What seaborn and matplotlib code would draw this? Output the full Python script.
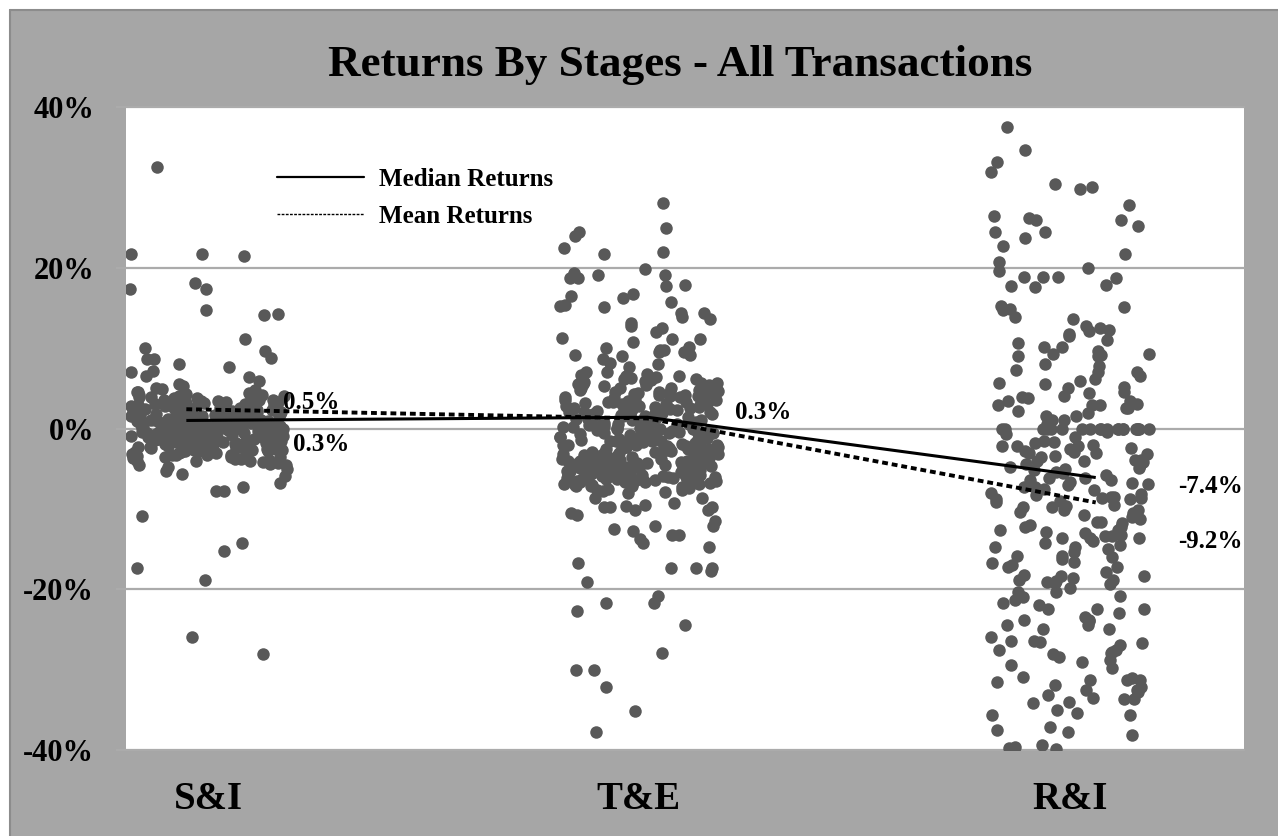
import numpy as np
import pandas as pd
import matplotlib
matplotlib.use("Agg")
import matplotlib.pyplot as plt
import seaborn as sns
from matplotlib.lines import Line2D
from matplotlib.patches import Rectangle

# ---------------- data ----------------
categories = ["S&I", "T&E", "R&I"]

si_returns = [
    32.5, 21.7, 21.7, 21.4, 18.1, 17.4, 17.4, 14.7, 14.3, 14.1, 11.1, 10.0, 8.8, 9.6,
    8.7, 7.7, 7.0, 8.7, 8.0, 7.2, 6.4, 5.9, 5.3, 5.5, 6.5,
    -10.9, -14.3, -15.2, -17.4, -18.8, -25.9, -28.1, -7.3, -7.8, -7.8, -6.8, -5.9, -5.6, -5.3,
    4.8, 4.5, 4.3, 4.2, 4.0, 3.9, 3.8, 3.7, 3.6, 3.5, 3.4, 3.3, 3.2, 3.1, 3.0, 3.0, 2.9,
    2.8, 2.8, 2.7, 2.6, 2.6, 2.5, 2.4, 2.4, 2.3, 2.2, 2.2, 2.1, 2.0, 2.0, 1.9, 1.9, 1.8,
    1.7, 1.7, 1.6, 1.6, 1.5, 1.5, 1.4, 1.4, 1.3, 1.3, 1.2, 1.2, 1.1, 1.1, 1.0, 1.0, 0.9,
    0.9, 0.8, 0.8, 0.7, 0.7, 0.6, 0.6, 0.5, 0.5, 0.4, 0.4, 0.3, 0.3, 0.3, 0.2, 0.2, 0.1,
    0.1, 0.0, 0.0, 0.0, -0.1, -0.1, -0.2, -0.2, -0.3, -0.3, -0.4, -0.4, -0.5, -0.5, -0.6,
    -0.6, -0.7, -0.7, -0.8, -0.8, -0.9, -0.9, -1.0, -1.0, -1.1, -1.1, -1.2, -1.3, -1.3,
    -1.4, -1.5, -1.5, -1.6, -1.7, -1.8, -1.8, -1.9, -2.0, -2.1, -2.2, -2.3, -2.4, -2.5,
    -2.6, -2.7, -2.8, -2.9, -3.0, -3.1, -3.3, -3.4, -3.6, -3.8, -4.0, -4.2, -4.5, -4.8,
    4.6, 4.1, 3.85, 3.45, 3.15, 2.95, 2.65, 2.35, 2.15, 1.95, 1.75, 1.55, 1.35, 1.15,
    0.95, 0.75, 0.55, 0.35, 0.15, -0.05, -0.25, -0.45, -0.65, -0.85, -1.05, -1.25, -1.45,
    -1.65, -1.85, -2.15, -2.45, -2.75, -3.05, -3.35, -3.7, -4.1, -4.6, 2.55, 1.85, 1.25,
    0.65, 0.05, -0.55, -1.15, -1.75, -2.35,
    3.95, 3.55, 3.25, 2.75, 2.45, 2.25, 1.65, 1.05, 0.85, 0.45, 0.25, -0.15, -0.35, -0.75,
    -0.95, -1.35, -1.55, -1.95, -2.05, -2.25, -2.55, -2.65, -2.85, -3.15, -3.25, -3.5,
    -3.9, -4.3, 4.4, 3.75, 3.35, 2.05, 1.45, 0.15, -0.05, -1.45, -2.95, -3.55, 2.7, 2.1,
    1.5, 0.9, 0.3, -0.3, -0.9, -1.5, -2.1, -2.7, -3.3, 3.3, 4.2, 1.8, 1.2, 0.6, 0.0, -0.6,
    -1.2, -1.8, -2.4, 2.4, 1.6, 0.8, 0.2, -0.8, -1.6, -4.4, -5.0, 5.0, 4.9, -3.8, -4.0,
    3.6, 2.9, -0.2, 0.7, -1.0, 1.3, -2.6, 2.3, -0.4,
]

te_returns = [
    28.1, 24.9, 24.5, 23.9, 22.5, 21.9, 21.7, 19.1, 19.1, 18.7, 19.9, 19.4, 18.7, 17.7,
    17.8, 16.7, 16.2, 15.7, 16.5, 15.1, 14.4, 13.6, 15.4, 15.3, 13.9, 12.7, 14.4, 12.5,
    13.1, 11.1, 12.0, 11.2, 10.8, 11.1, 9.5, 9.8, 8.0, 10.1, 10.0, 9.0, 9.8, 9.2, 8.2,
    7.0, 8.6, 7.7, 9.2, 9.5,
    -8.7, -12.5, -9.8, -9.7, -9.5, -11.5, -13.2, -13.8, -13.3, -10.1, -9.3, -8.7, -10.5,
    -12.1, -14.2, -12.8, -16.7, -10.1, -10.7, -12.1, -9.8, -9.8, -14.8, -17.3, -17.4,
    -17.7, -19.1, -17.4, -20.9, -21.7, -21.7, -22.7, -24.5, -27.9, -30.0, -30.0, -32.1,
    -35.1, -37.7,
    7.0, 6.8, 6.6, 6.5, 6.3, 6.1, 6.0, 5.8, 5.7, 5.5, 5.4, 5.2, 5.1, 5.0, 4.9, 4.7, 4.6,
    4.5, 4.4, 4.2, 4.1, 4.0, 3.9, 3.8, 3.7, 3.5, 3.4, 3.3, 3.2, 3.1, 3.0, 2.9, 2.8, 2.7,
    2.6, 2.5, 2.4, 2.3, 2.2, 2.1, 2.0, 1.9, 1.8, 1.7, 1.6, 1.5, 1.4, 1.3, 1.2, 1.1, 1.0,
    0.9, 0.8, 0.7, 0.6, 0.5, 0.4, 0.3, 0.2, 0.1, 0.0, -0.1, -0.2, -0.3, -0.4, -0.5, -0.6,
    -0.7, -0.8, -0.9, -1.0, -1.1, -1.2, -1.3, -1.4, -1.5, -1.6, -1.7, -1.8, -1.9, -2.0,
    -2.1, -2.2, -2.3, -2.4, -2.5, -2.6, -2.7, -2.8, -2.9, -3.0, -3.1, -3.2, -3.3, -3.4,
    -3.5, -3.6, -3.7, -3.8, -3.9, -4.0, -4.1, -4.2, -4.3, -4.4, -4.5, -4.6, -4.7, -4.8,
    -4.9, -5.0, -5.1, -5.2, -5.3, -5.4, -5.5, -5.6, -5.7, -5.8, -5.9, -6.0, -6.1, -6.2,
    -6.3, -6.4, -6.5, -6.6, -6.7, -6.8, -6.9, -7.0, -7.2, -7.4, -7.6, -7.8, -8.0,
    6.2, 5.3, 4.3, 3.6, 2.85, 2.15, 1.45, 0.75, 0.05, -0.65, -1.35, -1.85, -2.25, -2.65,
    -2.95, -3.25, -3.55, -3.85, -4.15, -4.45, -4.75, -5.05, -5.35, -5.65, -5.95, -6.25,
    -6.55, -6.85, -7.1, -3.45, -3.95, -4.65, -5.15, -5.75, -6.15, -2.45, -1.55, -0.35,
    0.85, 2.05, 3.25, 4.75, -4.95, -5.45, -6.05, -6.35, -6.75, -3.15, -2.05, -1.05, 0.45,
    1.65, 5.6, -7.3,
    6.7, 5.9, 5.0, 4.4, 3.9, 3.3, 2.7, 2.2, 1.7, 1.1, 0.6, 0.0, -0.5, -1.0, -1.6, -2.1,
    -2.6, -3.1, -3.6, -4.1, -4.6, -5.1, -5.6, -6.1, -6.6, -7.1, -7.7, -4.3, -4.8, -5.3,
    -5.8, -6.3, -6.8, -3.3, -3.8, -2.8, -2.3, -1.8, -1.3, -0.8, -0.3, 0.2, 0.7, 1.2, 1.8,
    2.4, 3.0, 3.6, 4.2, 4.8, 5.4, 6.4, -5.5, -6.0, -6.5, -5.0, -4.5, -4.0, -3.5, -3.0,
    -2.5, -2.0, -1.5, -7.5, -7.9, -6.9, -6.4, -5.9, -5.4, -4.9, -4.4, -3.9, -3.4, -2.9,
    0.5, 1.5, 2.5, 3.5, 4.5, -0.5, -1.0, 5.5, 6.5, -7.0, -6.2, -5.2, -4.2, -3.2, -2.2, -1.2,
]

ri_returns = [
    37.5, 34.7, 33.1, 31.9, 30.1, 30.4, 29.8, 27.8, 26.0, 26.2, 25.9, 26.4, 25.2, 24.4,
    24.4, 23.7, 22.7, 21.7, 20.7, 19.6, 20.0, 18.9, 18.9, 18.7, 18.8, 17.8, 17.6, 17.7,
    15.2, 15.1, 14.9, 14.7, 13.9, 13.6, 12.5, 11.8, 12.1, 11.5, 12.3, 12.7, 10.6, 10.1,
    9.3, 10.1, 9.0, 9.0, 9.7, 9.2, 7.3, 6.5, 9.3, 8.0, 7.0, 7.0, 5.2, 5.9, 5.7, 5.1, 4.4,
    4.5, 3.9, 4.1, 2.9, 2.9, 2.9, 3.4, 3.4, 2.6, 2.6, 1.9, 1.6, 1.5, 1.1, 3.0, 6.2, 1.0,
    0.5,
    0.0, 0.0, 0.0, 0.0, 0.0, 0.0, 0.0, 0.0, 0.0, 0.0, 0.0, 0.0, 0.0, 0.0, 0.0, 0.0, 0.0,
    0.0, 0.0, 0.0,
    -2.2, -2.2, -3.0, -2.2, -4.1, -3.9, -4.9, -4.1, -2.4, -2.9, -2.0, -0.7, -1.7, -3.9,
    -4.5, -5.4, -3.0, -4.2, -6.6, -8.6, -9.2, -6.1, -7.3, -8.0, -7.0, -8.2, -5.5, -7.3,
    -8.6, -8.8, -6.4, -6.4, -8.5, -9.5, -10.1, -8.5, -8.8, -9.8, -9.8, -10.1, -11.6,
    -11.6, -12.2, -13.4, -12.6, -11.0, -13.4, -12.3, -13.0, -13.6, -14.7, -12.6, -14.2,
    -13.6, -13.2, -13.6, -15.4, -15.9, -16.7, -17.2, -17.8, -18.8, -16.6, -15.9, -17.2,
    -18.2, -18.8, -18.4, -19.4, -19.1, -18.4, -19.8, -19.2, -20.4, -21.9, -22.5, -20.4,
    -21.3, -22.5, -23.8, -22.9, -21.7, -23.4, -24.4, -22.5, -25.0, -24.4, -26.0, -26.5,
    -27.8, -27.9, -27.5, -29.0, -28.8, -28.4, -26.6, -26.9, -28.1, -29.4, -26.7, -26.5,
    -29.8, -30.9, -31.3, -31.3, -32.1, -32.5, -33.7, -34.0, -31.0, -31.9, -32.8, -33.5,
    -32.5, -31.6, -33.1, -33.7, -34.1, -35.4, -35.0, -35.6, -37.5, -37.7, -37.2, -38.1,
    -39.4, -39.6, -39.8, -39.9,
    -3.2, -10.5, -14.8, -18.6, -23.8, -25.0, -27.5, -31.3, -35.6, -5.0, -1.5,
    -1.0, -2.6, -3.5, -4.8, -5.8, -6.8, -7.7, -8.3, -9.0, -10.4, -11.3, -12.0, -12.9,
    -14.0, -15.0, -16.2, -17.0, -19.0, -20.8, -1.8, -3.4, -5.2, -6.2, -7.5, -9.6, -11.8,
    -14.5, 2.2, 3.8, 5.5, 7.8, 11.0, -0.4, -2.8, -4.4, -6.9, -10.8, -16.0, -21.0, -24.0,
]

median_returns = [1.0, 1.4, -6.1]
mean_returns = [2.4, 1.25, -9.2]
value_labels = ["0.5%", "0.3%", "0.3%", "-7.4%", "-9.2%"]
legend_labels = ["Median Returns", "Mean Returns"]
y_ticks = [-40, -20, 0, 20, 40]
y_tick_labels = ["-40%", "-20%", "0%", "20%", "40%"]
title_text = "Returns By Stages - All Transactions"

# ---------------- layout constants ----------------
W, H = 1278, 836
line_x = [-0.05, 1.02, 2.06]
label_pos = [(0.174, 3.2), (0.197, -2.0), (1.223, 2.0), (2.251, -7.2), (2.251, -14.1)]

sns.set_theme(style="white")
plt.rcParams["font.family"] = ["Liberation Serif", "DejaVu Serif"]
plt.rcParams["font.weight"] = "bold"
plt.rcParams["text.color"] = "black"
plt.rcParams["axes.labelcolor"] = "black"
plt.rcParams["xtick.color"] = "black"
plt.rcParams["ytick.color"] = "black"

df = pd.DataFrame({
    "stage": [categories[0]] * len(si_returns) + [categories[1]] * len(te_returns)
             + [categories[2]] * len(ri_returns),
    "ret": si_returns + te_returns + ri_returns,
})

fig = plt.figure(figsize=(W / 100, H / 100), dpi=100, facecolor="#a6a6a6")
# white outer margin + darker edge line
fig.patches.append(Rectangle((0, 1 - 9 / H), 1, 9 / H, transform=fig.transFigure,
                             facecolor="white", edgecolor="none", zorder=0))
fig.patches.append(Rectangle((0, 0), 9 / W, 1, transform=fig.transFigure,
                             facecolor="white", edgecolor="none", zorder=0))
fig.lines.append(Line2D([9.5 / W, 1], [1 - 9.5 / H, 1 - 9.5 / H], transform=fig.transFigure,
                        color="#8c8c8c", lw=1.5))
fig.lines.append(Line2D([9.5 / W, 9.5 / W], [0, 1 - 9.5 / H], transform=fig.transFigure,
                        color="#8c8c8c", lw=1.5))

ax = fig.add_axes([126 / W, 1 - 750 / H, (1244 - 126) / W, (750 - 107) / H])
ax.set_facecolor("white")
for yv in y_ticks:
    ax.axhline(yv, color="#ababab", lw=1.6, zorder=0, clip_on=False)

np.random.seed(11)
sns.stripplot(data=df, x="stage", y="ret", order=categories, color="#595959",
              size=9, jitter=0.185, linewidth=0, ax=ax, zorder=2)

ax.plot(line_x, median_returns, color="black", lw=2.2, zorder=3, solid_capstyle="butt")
ax.plot(line_x, mean_returns, color="black", lw=2.8, ls=(0, (1.5, 1.0)), zorder=3)

for (tx, ty), s in zip(label_pos, value_labels):
    ax.text(tx, ty, s, ha="left", va="center", fontsize=18, fontweight="bold",
            color="black", zorder=4)

handles = [Line2D([], [], color="black", lw=1.6),
           Line2D([], [], color="black", lw=1.0, ls=(0, (2, 1)))]
ax.legend(handles, legend_labels, loc="upper left", bbox_to_anchor=(0.135, 0.905),
          frameon=False, prop={"size": 18, "weight": "bold"}, handlelength=3.5,
          handletextpad=0.6, labelspacing=0.55, borderaxespad=0, borderpad=0,
          labelcolor="black")

ax.set_xlim(-0.19, 2.404)
ax.set_ylim(-40, 40)
ax.set_yticks(y_ticks)
ax.set_yticklabels(y_tick_labels)
ax.tick_params(axis="y", left=True, length=7, width=1.5, color="#ababab", pad=16,
               labelsize=22, labelcolor="black")
ax.tick_params(axis="x", length=0, pad=22, labelsize=28, labelcolor="black")
ax.set_xlabel("")
ax.set_ylabel("")
for sp in ax.spines.values():
    sp.set_visible(False)

fig.text(0.532, 1 - 65 / H, title_text, ha="center", va="center", fontsize=32.5,
         fontweight="bold", color="black")

fig.savefig("out.png", dpi=100, facecolor=fig.get_facecolor())
